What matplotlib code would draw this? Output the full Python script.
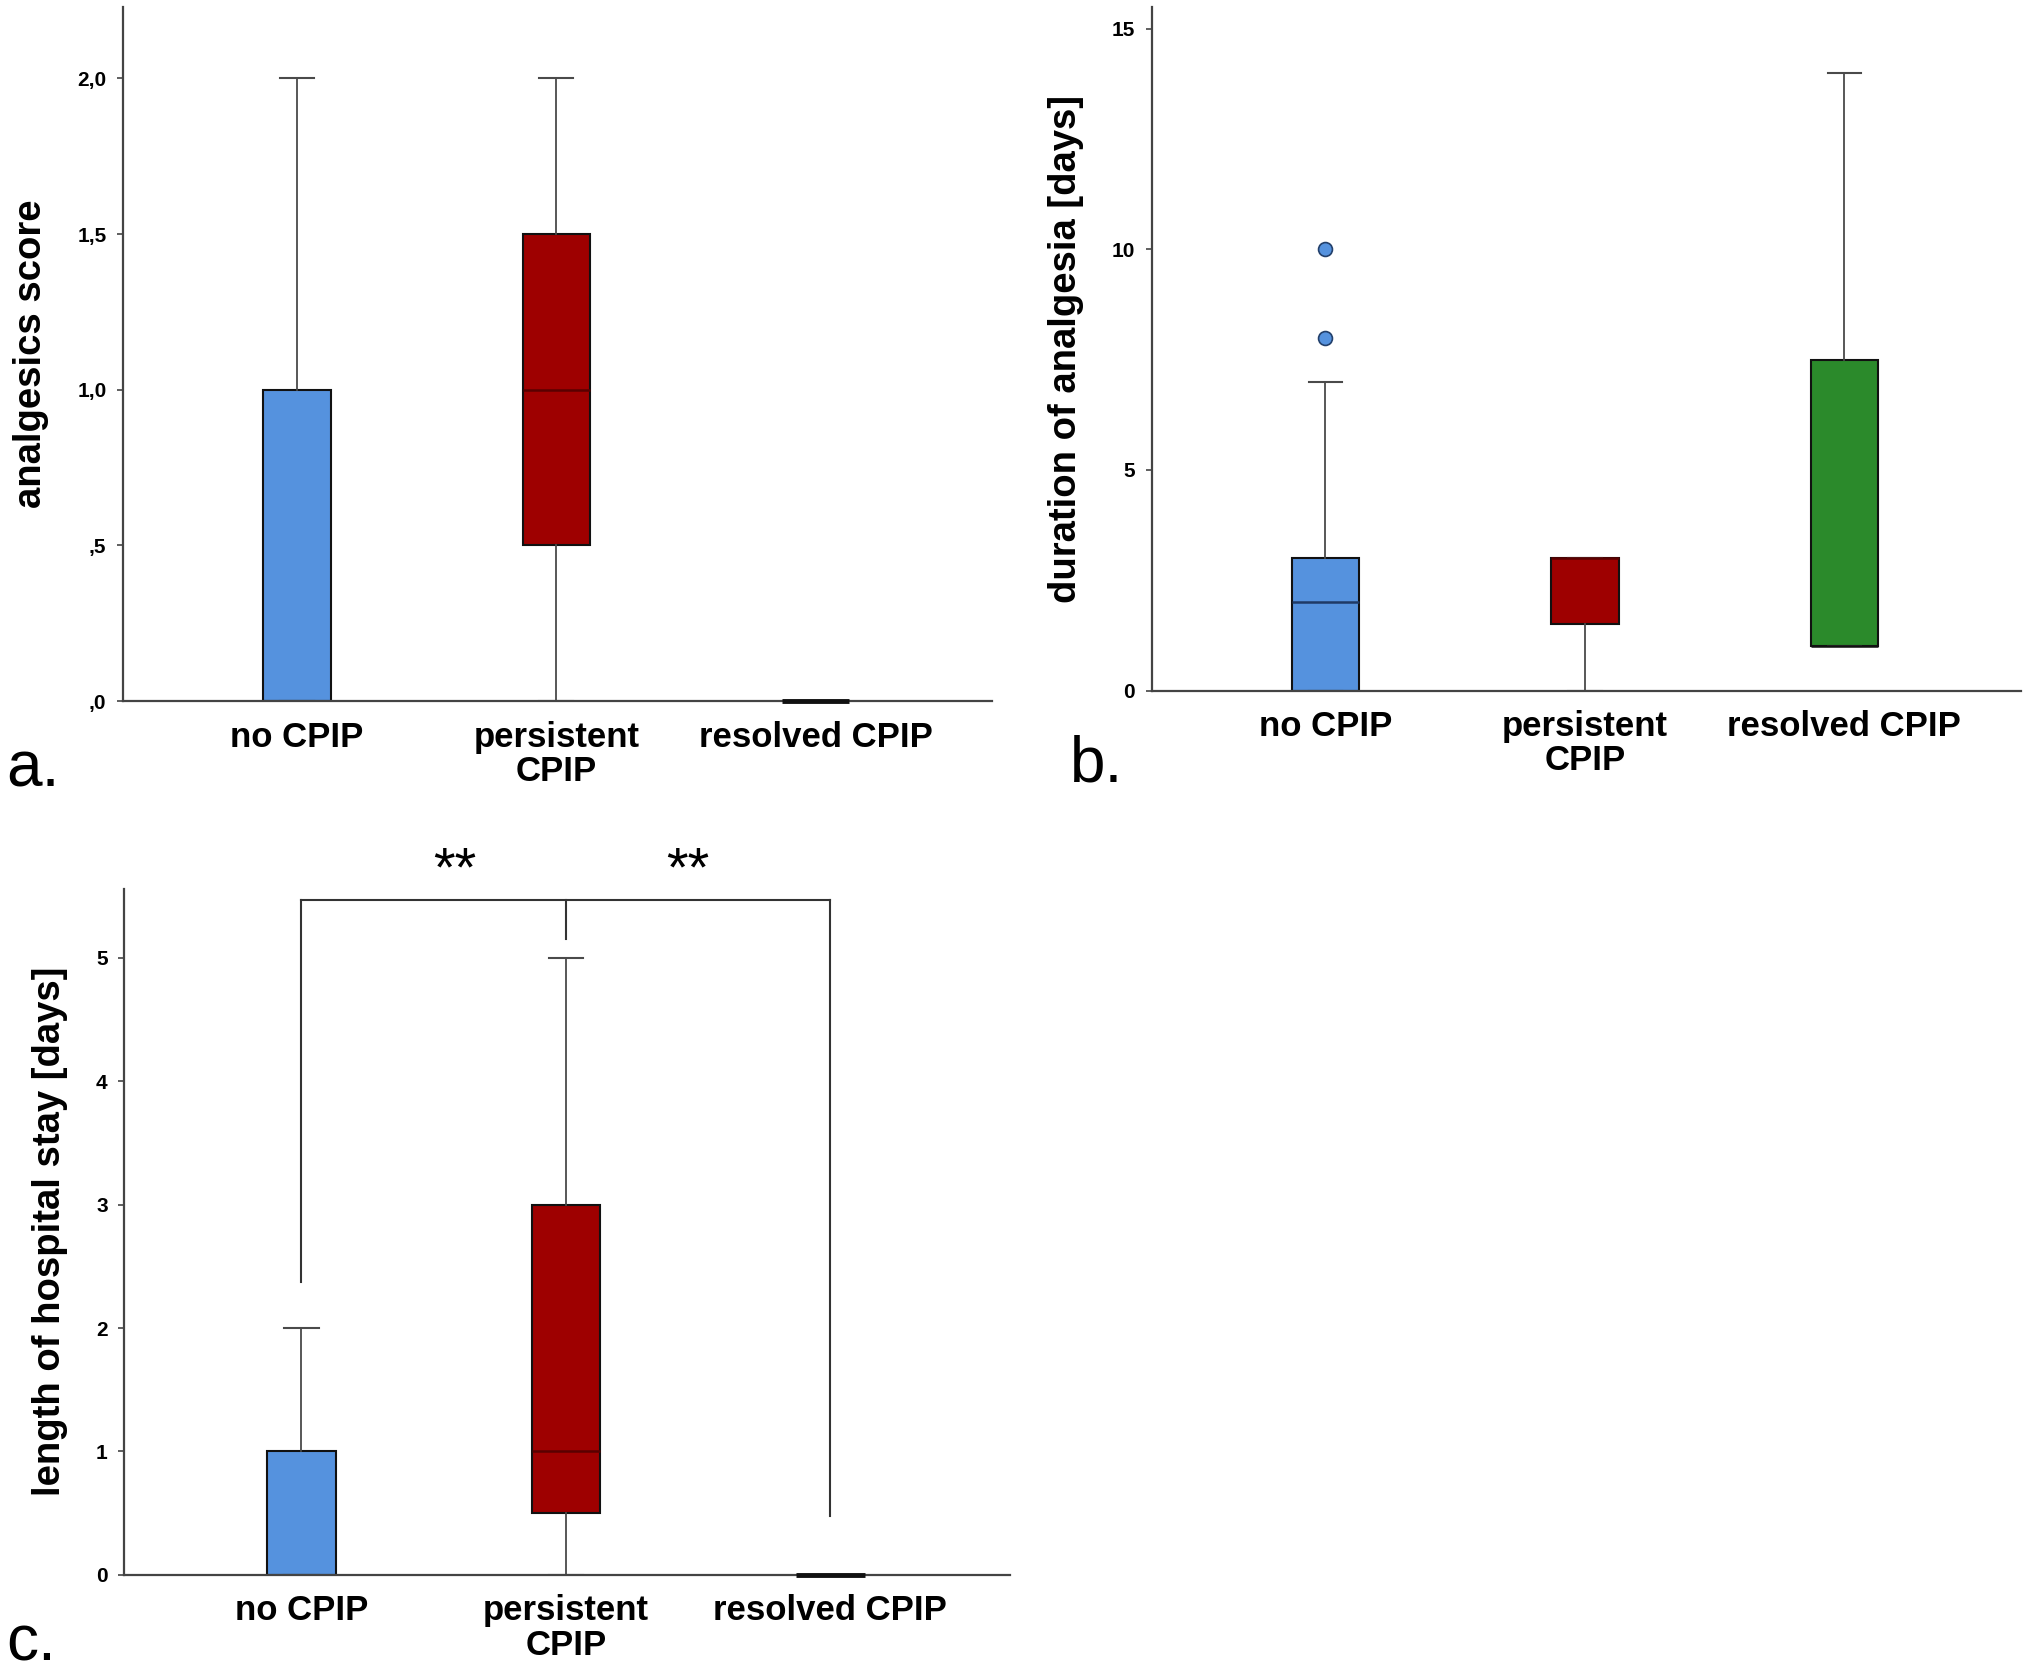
import matplotlib
matplotlib.use("Agg")
import matplotlib.pyplot as plt

plt.rcParams['font.family'] = ['Liberation Sans', 'DejaVu Sans']

groups = ["no CPIP", "persistent\nCPIP", "resolved CPIP"]
box_colors = ["#5592DE", "#9E0000", "#2B8A2B"]
median_colors = ["#1F3A66", "#5A0000", "#111111"]

# panel a: analgesics score
a_lo = [0, 0, 0]
a_q1 = [0, 0.5, 0]
a_med = [0, 1.0, 0]
a_q3 = [1.0, 1.5, 0]
a_hi = [2.0, 2.0, 0]
a_ticks = [0, 0.5, 1.0, 1.5, 2.0]
a_ticklabels = [",0", ",5", "1,0", "1,5", "2,0"]

# panel b: duration of analgesia
b_lo = [0, 0, 1]
b_q1 = [0, 1.5, 1]
b_med = [2, 3, 1]
b_q3 = [3, 3, 7.5]
b_hi = [7, 3, 14]
b_out = [[8, 10], [], []]
b_ticks = [0, 5, 10, 15]

# panel c: length of hospital stay
c_lo = [0, 0, 0]
c_q1 = [0, 0.5, 0]
c_med = [0, 1, 0]
c_q3 = [1, 3, 0]
c_hi = [2, 5, 0]
c_ticks = [0, 1, 2, 3, 4, 5]


def make_stats(lo, q1, med, q3, hi, out=None):
    stats = []
    for i in range(len(lo)):
        stats.append(dict(whislo=lo[i], q1=q1[i], med=med[i], q3=q3[i], whishi=hi[i],
                          fliers=(out[i] if out else []), label=groups[i]))
    return stats


def draw_panel(ax, stats, ylim, ticks, ticklabels, ylabel):
    res = ax.bxp(stats, positions=[1, 2, 3], widths=0.26, patch_artist=True,
                 showfliers=True,
                 boxprops=dict(linewidth=1.5, edgecolor="#111111"),
                 whiskerprops=dict(linewidth=1.3, color="#4a4a4a"),
                 capprops=dict(linewidth=1.5, color="#4a4a4a"),
                 capwidths=0.13,
                 medianprops=dict(linewidth=1.8),
                 flierprops=dict(marker="o", markersize=10, markerfacecolor="#5592DE",
                                 markeredgecolor="#23406b", markeredgewidth=1.2))
    for i, b in enumerate(res["boxes"]):
        b.set_facecolor(box_colors[i])
    for i, m in enumerate(res["medians"]):
        m.set_color(median_colors[i])
        # collapsed box (all values equal) shows as a thick dark bar
        if stats[i]["q1"] == stats[i]["q3"] == stats[i]["med"]:
            m.set_linewidth(3.5)
            m.set_zorder(5)
            m.set_clip_on(False)
    ax.set_xlim(0.33, 3.68)
    ax.set_ylim(*ylim)
    ax.set_yticks(ticks)
    ax.set_yticklabels(ticklabels, fontsize=15, fontweight="bold")
    ax.set_xticks([1, 2, 3])
    ax.set_xticklabels(groups, fontsize=25, fontweight="bold", linespacing=1.05)
    ax.tick_params(axis="x", length=0, pad=14)
    ax.tick_params(axis="y", length=4, width=1.2, color="#444444", pad=8)
    for s in ["top", "right"]:
        ax.spines[s].set_visible(False)
    for s in ["left", "bottom"]:
        ax.spines[s].set_linewidth(1.6)
        ax.spines[s].set_color("#444444")
    ax.set_ylabel(ylabel, fontsize=27.5, fontweight="bold", labelpad=20)


fig = plt.figure(figsize=(20.31, 16.76), dpi=100)

ax_a = fig.add_axes([0.0606, 0.5817, 0.4279, 0.4143])
draw_panel(ax_a, make_stats(a_lo, a_q1, a_med, a_q3, a_hi), (0, 2.23),
           a_ticks, a_ticklabels, "analgesics score")

ax_b = fig.add_axes([0.567, 0.588, 0.428, 0.408])
draw_panel(ax_b, make_stats(b_lo, b_q1, b_med, b_q3, b_hi, b_out), (0, 15.5),
           b_ticks, [str(t) for t in b_ticks], "duration of analgesia [days]")

ax_c = fig.add_axes([0.0612, 0.0603, 0.4362, 0.4095])
draw_panel(ax_c, make_stats(c_lo, c_q1, c_med, c_q3, c_hi), (0, 5.56),
           c_ticks, [str(t) for t in c_ticks], "length of hospital stay [days]")

# significance bracket
br_y = 5.47
ax_c.plot([1, 3], [br_y, br_y], color="#333333", lw=1.5, clip_on=False)
ax_c.plot([1, 1], [2.37, br_y], color="#333333", lw=1.5, clip_on=False)
ax_c.plot([2, 2], [5.15, br_y], color="#333333", lw=1.5, clip_on=False)
ax_c.plot([3, 3], [0.48, br_y], color="#333333", lw=1.5, clip_on=False)
ax_c.text(1.58, 5.7, "**", fontsize=40, ha="center", va="center", clip_on=False)
ax_c.text(2.46, 5.7, "**", fontsize=40, ha="center", va="center", clip_on=False)

# panel letters
fig.text(0.003, 0.531, "a.", fontsize=46, va="baseline")
fig.text(0.527, 0.534, "b.", fontsize=46, va="baseline")
fig.text(0.003, 0.0095, "c.", fontsize=46, va="baseline")

fig.savefig("out.png", dpi=100)
